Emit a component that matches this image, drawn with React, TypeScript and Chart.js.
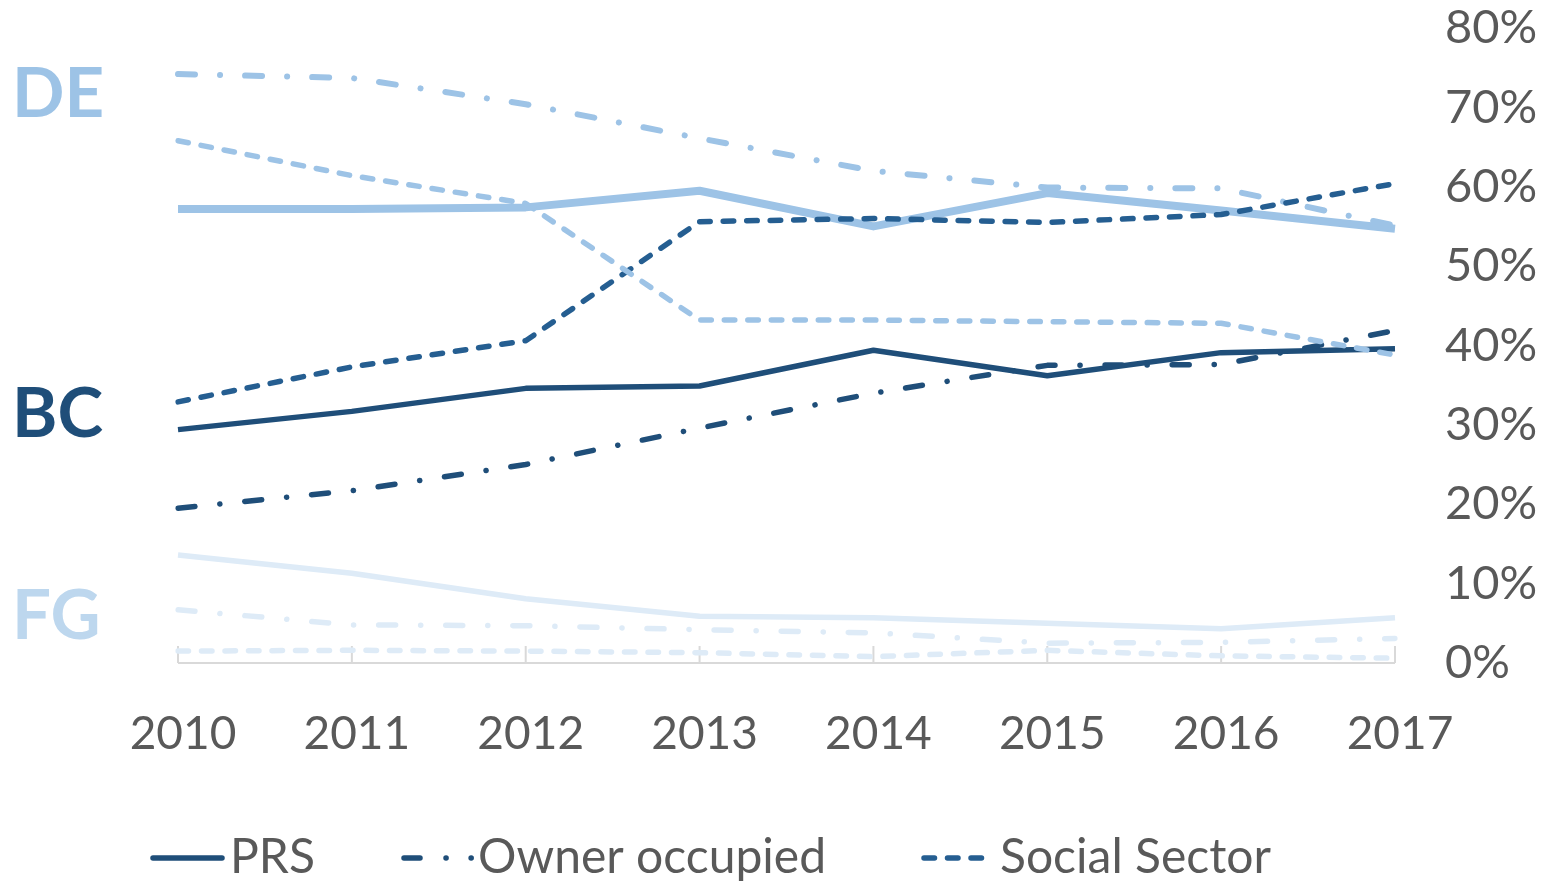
import React, { useEffect, useRef } from 'react';
import { Chart, registerables } from 'chart.js';

Chart.register(...registerables);

const years = ['2010', '2011', '2012', '2013', '2014', '2015', '2016', '2017'];

const dePRS = [57.2, 57.2, 57.4, 59.5, 55.0, 59.2, 57.0, 54.7];
const deOwner = [74.2, 73.7, 70.4, 66.1, 62.0, 59.9, 59.8, 55.1];
const deSocial = [65.8, 61.4, 57.9, 43.2, 43.2, 43.0, 42.8, 38.8];

const bcPRS = [29.4, 31.7, 34.6, 34.9, 39.4, 36.2, 39.1, 39.6];
const bcOwner = [19.5, 21.7, 25.0, 29.6, 34.0, 37.5, 37.6, 41.9];
const bcSocial = [32.9, 37.3, 40.6, 55.6, 56.0, 55.5, 56.5, 60.4];

const fgPRS = [13.6, 11.3, 8.1, 5.9, 5.7, 5.0, 4.3, 5.7];
const fgOwner = [6.7, 4.8, 4.7, 4.2, 3.8, 2.5, 2.6, 3.1];
const fgSocial = [1.5, 1.6, 1.5, 1.3, 0.8, 1.6, 0.9, 0.6];

const yMin = 0;
const yMax = 80;
const yStep = 10;

const groupLabels = ['DE', 'BC', 'FG'];
const legendLabels = ['PRS', 'Owner occupied', 'Social Sector'];

const C_DE = '#9DC3E6';
const C_BC = '#1F4E79';
const C_BC_SOC = '#255E91';
const C_FG = '#DEEBF7';
const C_FG_LABEL = '#BDD7EE';
const TEXT = '#595959';
const FONT = 'Lato, "Open Sans", sans-serif';

const DASH = [10.5, 13];
const DASHDOT = [17, 25, 0.1, 25];

function ds(label: string, data: number[], color: string, width: number, dash: number[], order: number) {
  return {
    label,
    data,
    borderColor: color,
    backgroundColor: color,
    borderWidth: width,
    borderDash: dash,
    borderCapStyle: dash.length ? 'round' : 'butt',
    borderJoinStyle: 'round',
    pointRadius: 0,
    pointHoverRadius: 0,
    tension: 0,
    fill: false,
    order,
  };
}

const axisPlugin = {
  id: 'axisPlugin',
  beforeDatasetsDraw(chart: any) {
    const { ctx, chartArea } = chart;
    const x = chart.scales.x;
    const y0 = chart.scales.y.getPixelForValue(0);
    ctx.save();
    ctx.strokeStyle = '#D9D9D9';
    ctx.lineWidth = 2;
    ctx.beginPath();
    ctx.moveTo(chartArea.left, y0);
    ctx.lineTo(chartArea.right, y0);
    for (let i = 0; i < years.length; i++) {
      const px = x.getPixelForValue(i);
      ctx.moveTo(px, y0);
      ctx.lineTo(px, y0 - 17);
    }
    ctx.stroke();
    ctx.restore();
  },
};

const overlayPlugin = {
  id: 'overlayPlugin',
  afterDraw(chart: any) {
    const { ctx } = chart;
    ctx.save();
    // Group labels on the left
    const gColors = [C_DE, C_BC, C_FG_LABEL];
    const gBaselines = [117, 437, 639];
    ctx.font = `bold 69px ${FONT}`;
    ctx.textBaseline = 'alphabetic';
    ctx.textAlign = 'left';
    groupLabels.forEach((g, i) => {
      ctx.fillStyle = gColors[i];
      ctx.fillText(g, 12, gBaselines[i]);
    });

    // Legend
    const legendY = 858;
    const items = [
      { x0: 153, x1: 222, tx: 230, color: C_BC, dash: [] as number[] },
      { x0: 404, x1: 472, tx: 478, color: C_BC, dash: [16, 26, 0.1, 25, 0.1, 100] },
      { x0: 924, x1: 990, tx: 1000, color: C_BC_SOC, dash: [10.5, 13] },
    ];
    items.forEach((it, i) => {
      ctx.strokeStyle = it.color;
      ctx.lineWidth = 5.5;
      ctx.lineCap = 'round';
      ctx.setLineDash(it.dash);
      ctx.beginPath();
      ctx.moveTo(it.x0, legendY);
      ctx.lineTo(it.x1, legendY);
      ctx.stroke();
      ctx.setLineDash([]);
      ctx.fillStyle = TEXT;
      ctx.font = `48px ${FONT}`;
      ctx.textBaseline = 'middle';
      ctx.fillText(legendLabels[i], it.tx, legendY);
    });
    ctx.restore();
  },
};

export default function App() {
  const ref = useRef<HTMLCanvasElement | null>(null);

  useEffect(() => {
    document.body.style.margin = '0';
    const canvas = ref.current;
    if (!canvas) return;
    const chart = new Chart(canvas, {
      type: 'line',
      data: {
        labels: years,
        datasets: [
          ds('DE PRS', dePRS, C_DE, 8, [], 3),
          ds('BC PRS', bcPRS, C_BC, 5.5, [], 3),
          ds('FG PRS', fgPRS, C_FG, 5.5, [], 3),
          ds('DE Owner occupied', deOwner, C_DE, 6, DASHDOT, 2),
          ds('BC Owner occupied', bcOwner, C_BC, 5.5, DASHDOT, 2),
          ds('FG Owner occupied', fgOwner, C_FG, 5.5, DASHDOT, 2),
          ds('DE Social Sector', deSocial, C_DE, 5.5, DASH, 1),
          ds('BC Social Sector', bcSocial, C_BC_SOC, 5.5, DASH, 1),
          ds('FG Social Sector', fgSocial, C_FG, 5.5, DASH, 1),
        ] as any,
      },
      options: {
        responsive: false,
        animation: false,
        devicePixelRatio: 1,
        events: [],
        layout: { padding: { left: 178, right: 0, top: 28, bottom: 0 } },
        plugins: {
          legend: { display: false },
          tooltip: { enabled: false },
          title: { display: false },
        },
        scales: {
          x: {
            type: 'category',
            offset: false,
            grid: { display: false },
            border: { display: false },
            ticks: {
              color: TEXT,
              font: { family: FONT, size: 46 },
              padding: 36,
              labelOffset: 5,
              maxRotation: 0,
              autoSkip: false,
            },
            afterFit: (scale: any) => {
              scale.height = 219;
              scale.paddingLeft = 0;
              scale.paddingRight = 0;
            },
          },
          y: {
            position: 'right',
            min: yMin,
            max: yMax,
            grid: { display: false, drawTicks: false },
            border: { display: false },
            ticks: {
              stepSize: yStep,
              color: TEXT,
              font: { family: FONT, size: 47 },
              padding: 50,
              callback: (v: any) => `${v}%`,
            },
            afterFit: (scale: any) => {
              scale.width = 147;
              scale.paddingTop = 0;
              scale.paddingBottom = 0;
            },
          },
        },
      } as any,
      plugins: [axisPlugin, overlayPlugin],
    });
    return () => chart.destroy();
  }, []);

  return (
    <div style={{ width: 1542, height: 882, position: 'relative', background: '#fff' }}>
      <canvas ref={ref} width={1542} height={882} style={{ display: 'block' }} />
    </div>
  );
}
